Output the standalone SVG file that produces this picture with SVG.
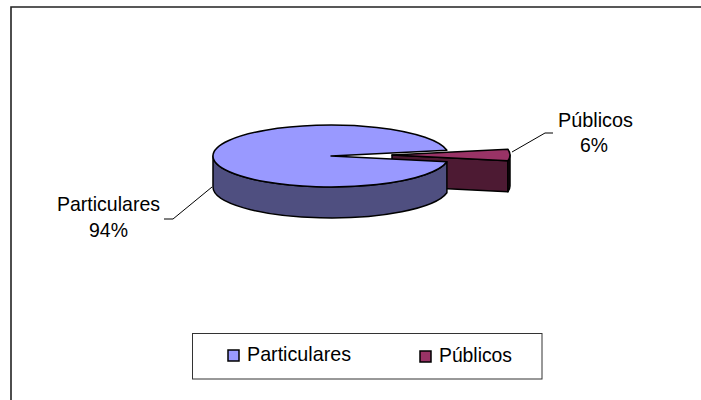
<svg xmlns="http://www.w3.org/2000/svg" width="701" height="400" viewBox="0 0 701 400">
<style>
  .lbl { font-family: "Liberation Sans", Arial, sans-serif; font-size: 21px; fill: #000; }
  .edge { stroke: #000; stroke-width: 1.5; stroke-linejoin: round; }
  .lead { fill: none; stroke: #000; stroke-width: 1; }
</style>
<rect x="0" y="0" width="701" height="400" fill="#fff"/>
<path d="M11,400 V7 H701" fill="none" stroke="#222" stroke-width="1.6"/>

<g id="slice-publicos">
  <path class="edge" d="M392,155 L507.9,160.8 L507.9,191.8 L392,186 Z" fill="#4D1A33"/>
  <path class="edge" d="M510,155 A118,31 0 0 1 507.9,160.8 L507.9,191.8 A118,31 0 0 0 510,186 Z" fill="#1f0a14"/>
  <path class="edge" d="M392,155 L507.9,149.2 A118,31 0 0 1 507.9,160.8 Z" fill="#993366"/>
</g>

<g id="slice-particulares">
  <path class="edge" d="M446.9,161.8 A118,31 0 0 1 213,156 L213,187 A118,31 0 0 0 446.9,192.8 Z" fill="#4F4F80"/>
  <path class="edge" d="M331,156 L446.9,161.8 A118,31 0 1 1 446.9,150.2 Z" fill="#9999FF"/>
</g>

<g id="connectors">
  <polyline class="lead" points="164,219 173,219 212,187"/>
  <polyline class="lead" points="553,133 545,133 512,152"/>
</g>

<g id="label-particulares">
  <text class="lbl" x="57" y="211" textLength="103" lengthAdjust="spacingAndGlyphs">Particulares</text>
  <text class="lbl" x="89" y="237" textLength="39" lengthAdjust="spacingAndGlyphs">94%</text>
</g>

<g id="label-publicos">
  <text class="lbl" x="558" y="127" textLength="75" lengthAdjust="spacingAndGlyphs">Públicos</text>
  <text class="lbl" x="580" y="152" textLength="28" lengthAdjust="spacingAndGlyphs">6%</text>
</g>

<g id="legend">
  <rect x="192.5" y="333.5" width="349.5" height="45.5" fill="#fff" stroke="#333" stroke-width="1"/>
  <rect x="228" y="350" width="11" height="11" fill="#9999FF" stroke="#000" stroke-width="1.5"/>
  <text class="lbl" x="247" y="361" textLength="104" lengthAdjust="spacingAndGlyphs">Particulares</text>
  <rect x="420" y="351" width="11" height="11" fill="#993366" stroke="#000" stroke-width="1.5"/>
  <text class="lbl" x="439" y="362" textLength="73" lengthAdjust="spacingAndGlyphs">Públicos</text>
</g>
</svg>
